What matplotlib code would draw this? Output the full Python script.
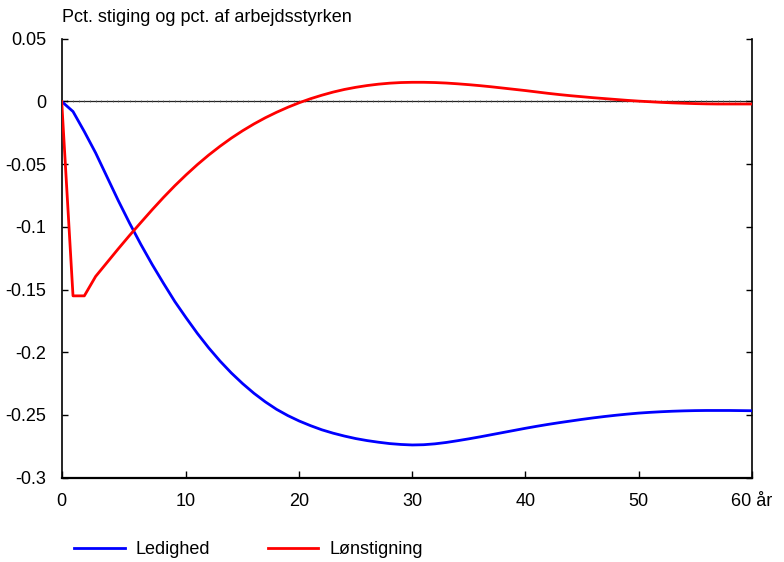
import numpy as np
import matplotlib.pyplot as plt

plt.rcParams['font.family'] = ['Liberation Sans', 'DejaVu Sans']

# years after the shock; -1 is the baseline period before it
years = list(range(-1, 61))

ledighed = [
    0.0, -0.008, -0.024, -0.041, -0.060, -0.079, -0.097, -0.114, -0.130, -0.145,
    -0.1595, -0.1725, -0.1850, -0.1965, -0.2070, -0.2165, -0.2250, -0.2327, -0.2395, -0.2455,
    -0.2505, -0.2548, -0.2585, -0.2618, -0.2645, -0.2668, -0.2688, -0.2704, -0.2717, -0.2728,
    -0.2735, -0.2739, -0.2737, -0.2730, -0.2719, -0.2705, -0.2690, -0.2674, -0.2657, -0.2640,
    -0.2623, -0.2606, -0.2590, -0.2575, -0.2561, -0.2548, -0.2535, -0.2523, -0.2512, -0.2502,
    -0.2493, -0.2485, -0.2479, -0.2474, -0.2470, -0.2467, -0.2465, -0.2464, -0.2464, -0.2464,
    -0.2465, -0.2466,
]

loenstigning = [
    0.0, -0.155, -0.155, -0.1395, -0.1285, -0.1175, -0.1068, -0.0965, -0.0863, -0.0765,
    -0.0672, -0.0585, -0.0503, -0.0427, -0.0357, -0.0292, -0.0233, -0.0179, -0.0130, -0.0086,
    -0.0046, -0.0010, 0.0022, 0.0050, 0.0075, 0.0096, 0.0113, 0.0127, 0.0138, 0.0146,
    0.0151, 0.0153, 0.0153, 0.0151, 0.0147, 0.0141, 0.0134, 0.0126, 0.0117, 0.0107,
    0.0097, 0.0087, 0.0076, 0.0065, 0.0055, 0.0046, 0.0038, 0.0030, 0.0023, 0.0016,
    0.0009, 0.0003, -0.0002, -0.0007, -0.0011, -0.0014, -0.0017, -0.0019, -0.0020, -0.0020,
    -0.0020, -0.0020,
]

x_ticks = [-1, 10, 20, 30, 40, 50, 60]
x_labels = ['0', '10', '20', '30', '40', '50', '60 år']
y_ticks = [0.05, 0, -0.05, -0.1, -0.15, -0.2, -0.25, -0.3]
y_labels = ['0.05', '0', '-0.05', '-0.1', '-0.15', '-0.2', '-0.25', '-0.3']

fs = 13

fig = plt.figure(figsize=(7.84, 5.62), dpi=100)
ax = fig.add_axes([0.0787, 0.150, 0.880, 0.781])

# zero line with small half-year marks
ax.axhline(0, color='#222222', lw=0.9, zorder=1)
half_years = np.arange(-1, 60.5, 0.5)
ax.plot(half_years, np.zeros_like(half_years), ls='none', marker='|',
        ms=1.6, mew=0.5, color='#555555', zorder=1)

ax.plot(years, ledighed, color='#0000ff', lw=2, label='Ledighed', zorder=3)
ax.plot(years, loenstigning, color='#ff0000', lw=2, label='Lønstigning', zorder=3)

ax.set_xlim(-1, 60)
ax.set_ylim(-0.3, 0.05)
ax.set_xticks(x_ticks)
ax.set_xticklabels(x_labels)
ax.set_yticks(y_ticks)
ax.set_yticklabels(y_labels)

ax.spines['top'].set_visible(False)
for s in ['left', 'right']:
    ax.spines[s].set_linewidth(1.2)
ax.spines['bottom'].set_linewidth(1.6)

ax.tick_params(axis='y', direction='in', length=4, width=1, labelsize=fs,
               right=True, pad=11)
ax.tick_params(axis='x', direction='in', length=5, width=1, labelsize=fs, pad=11)

fig.text(0.0787, 0.968, 'Pct. stiging og pct. af arbejdsstyrken',
         fontsize=fs, ha='left', va='center')

fig.legend(loc='center left', bbox_to_anchor=(0.074, 0.022), ncol=2, frameon=False,
           fontsize=fs, handlelength=2.8, handletextpad=0.6, columnspacing=3.2)

fig.savefig('out.png', dpi=100)
